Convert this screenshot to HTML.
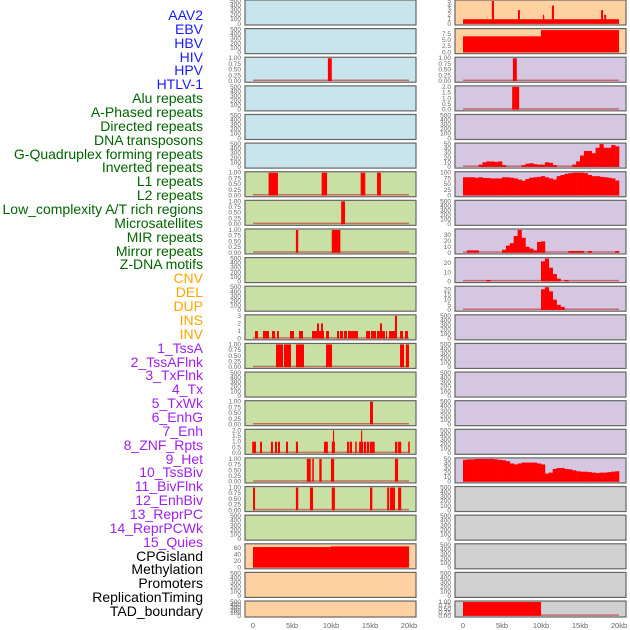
<!DOCTYPE html>
<html><head><meta charset="utf-8">
<style>
body{margin:0;background:#fff;width:630px;height:630px;overflow:hidden;font-family:"Liberation Sans",sans-serif}
#labels div{position:absolute;right:427px;font-size:14px;line-height:14px;white-space:nowrap}
</style></head>
<body>
<div id="labels"></div>
<svg id="chart" width="630" height="630" style="position:absolute;left:0;top:0"></svg>
<script>
const trackNames=["AAV2","EBV","HBV","HIV","HPV","HTLV-1","Alu repeats","A-Phased repeats","Directed repeats","DNA transposons","G-Quadruplex forming repeats","Inverted repeats","L1 repeats","L2 repeats","Low_complexity A/T rich regions","Microsatellites","MIR repeats","Mirror repeats","Z-DNA motifs","CNV","DEL","DUP","INS","INV","1_TssA","2_TssAFlnk","3_TxFlnk","4_Tx","5_TxWk","6_EnhG","7_Enh","8_ZNF_Rpts","9_Het","10_TssBiv","11_BivFlnk","12_EnhBiv","13_ReprPC","14_ReprPCWk","15_Quies","CPGisland","Methylation","Promoters","ReplicationTiming","TAD_boundary"];
const groupCounts=[6,13,5,15,5];
const groupColors=["#1a1aff","#006400","#ffa500","#a020f0","#000000"];
const xTicks=[0,5,10,15,20];
const xTickLabels=["0","5kb","10kb","15kb","20kb"];
const emptyTicks=[0,100,200,300,400,500];
const unitTicks=[0,0.25,0.5,0.75,1];
// left column segment data [startKb,endKb,value]
const hivSegs=[[9.6,10.1,1]];
const l1Segs=[[2.0,3.2,1],[8.8,9.5,1],[13.8,14.4,1],[15.9,16.4,1]];
const lowSegs=[[11.3,11.8,1]];
const mirSegs=[[5.5,5.8,1],[10.1,11.2,1]];
const cnvSegs=[[0.26,0.64,1],[1.28,2.05,1],[2.44,2.82,1],[3.08,3.33,1],[4.74,5.26,1],[5.9,6.41,1],[7.56,8.2,1],[8.2,8.46,2],[8.46,8.72,1],[8.72,8.97,2],[8.97,9.1,1],[9.36,9.74,1],[10.77,11.03,1],[11.15,11.54,1],[11.67,12.05,1],[12.18,13.46,1],[14.49,15.0,1],[15.13,15.77,1],[15.9,16.28,1],[16.28,16.54,2],[16.54,16.92,1],[17.05,17.18,1],[17.44,17.82,1],[17.82,18.2,1],[18.2,18.46,3],[18.85,19.23,1],[19.49,19.87,1]];
const delSegs=[[2.95,3.85,1],[3.97,4.87,1],[5.51,6.54,1],[9.36,10.13,1],[18.85,19.36,1],[19.6,20.0,1]];
const insSegs=[[15.0,15.38,1]];
const invSegs=[[-0.1,0.38,1],[0.9,1.15,1],[2.3,2.56,1],[2.82,3.08,1],[3.2,3.46,1],[4.23,4.49,1],[5.5,5.77,1],[9.1,9.6,1],[10.1,10.5,1],[10.25,10.4,2],[12.05,12.3,1],[12.4,12.7,1],[13.1,13.3,1],[13.6,14.1,1],[13.85,14.0,2],[14.2,14.5,1],[14.6,14.9,1],[15.0,15.6,1],[18.2,18.5,1],[18.6,19.0,1],[19.9,20.1,1]];
const tssaSegs=[[6.9,7.4,1],[7.6,7.8,1],[8.5,8.8,1],[10.0,10.4,1],[18.2,18.6,1]];
const flnkSegs=[[0,0.26,1],[5.5,5.8,1],[7.3,7.7,1],[10.1,10.5,1],[15.0,15.3,1],[17.2,17.45,1],[17.56,17.95,1],[17.95,18.2,1],[18.6,19.0,1]];
const cpgSegs=[[0,10,63],[10,20,65]];
// right column
const aavSegs=[[0,20,1],[3.7,3.97,5],[7.05,7.3,3],[10.25,10.4,2],[11.4,11.67,4],[17.7,17.95,3],[18.1,18.35,2]];
const ebvSegs=[[0,10,6.5],[10,20,9]];
const hpvSegs=[[6.4,6.9,1]];
const htlvSegs=[[6.3,7.2,2]];
const tadSegs=[[0,10,1]];
// right column binned profiles (0.5kb bins, 0..20kb)
const gquadBins=[0,0,0,0,5,10,12,12,11,12,4,0,0,0,0,4,7,8,6,5,5,10,9,4,0,0,0,0,5,12,25,35,35,30,42,50,42,42,48,45];
const l2Bins=[80,80,80,78,80,77,77,75,75,75,80,80,78,75,70,65,72,78,80,82,85,80,75,70,85,90,95,98,100,100,100,98,90,85,85,82,80,78,75,66];
const mirrorBins=[0,4,4,4,0,0,0,0,0,0,5,12,16,28,38,25,10,7,4,18,19,0,0,0,0,0,0,3,3,3,3,0,3,0,0,0,0,0,0,3];
const zdnaBins=[0,0,0,0,0,0,1.5,0,0,0,0,0,0,0,0,0,0,0,0,0,22,25,15,8,3,0,1.5,0,0,0,0,0,0,0,0,0,0,0,0,0];
const delRBins=[0,0,0,0,0,0,0,0,0,0,0,0,0,0,0,0,0,0,0,0,20,22,18,10,5,3,0,0,0,0,0,0,0,0,0,0,0,0,0,0];
const hetBins=[48,49,49,50,50,50,50,50,49,48,47,45,40,38,40,42,42,42,42,40,38,18,20,28,30,30,28,27,25,23,22,22,21,20,19,20,20,21,22,23];

const blue="#c8e4ec",green="#c8e0a4",orange="#ffd0a0",purple="#d5c6e2",grey="#d0d0d0";
// layout: [column, row, bg, ticks, segs, bins, ymax]
const layout=[
[0,0,blue,emptyTicks],[0,1,blue,emptyTicks],[0,2,blue,unitTicks,hivSegs],[0,3,blue,emptyTicks],[0,4,blue,emptyTicks],[0,5,blue,emptyTicks],
[0,6,green,unitTicks,l1Segs],[0,7,green,unitTicks,lowSegs],[0,8,green,unitTicks,mirSegs],[0,9,green,emptyTicks],[0,10,green,emptyTicks],
[0,11,green,[0,1,2,3],cnvSegs],[0,12,green,unitTicks,delSegs],[0,13,green,emptyTicks],[0,14,green,unitTicks,insSegs],
[0,15,green,[0,0.5,1,1.5,2],invSegs],[0,16,green,unitTicks,tssaSegs],[0,17,green,unitTicks,flnkSegs],[0,18,green,emptyTicks],
[0,19,orange,[0,20,40,60],cpgSegs,null,70],[0,20,orange,emptyTicks],[0,21,orange,emptyTicks],
[1,0,orange,[0,1,2,3,4,5],aavSegs],[1,1,orange,[0,2.5,5,7.5],ebvSegs,null,9.2],[1,2,purple,unitTicks,hpvSegs],[1,3,purple,[0,0.5,1,1.5,2],htlvSegs],
[1,4,purple,emptyTicks],[1,5,purple,[0,10,20,30,40,50],null,gquadBins],[1,6,purple,[0,25,50,75,100],null,l2Bins],[1,7,purple,emptyTicks],
[1,8,purple,[0,10,20,30],null,mirrorBins,38],[1,9,purple,[0,10,20],null,zdnaBins,25],[1,10,purple,[0,5,10,15,20],null,delRBins,22],
[1,11,purple,emptyTicks],[1,12,purple,emptyTicks],[1,13,purple,emptyTicks],[1,14,purple,emptyTicks],[1,15,purple,emptyTicks],
[1,16,purple,[0,10,20,30,40,50],null,hetBins],[1,17,grey,emptyTicks],[1,18,grey,emptyTicks],[1,19,grey,emptyTicks],[1,20,grey,emptyTicks],[1,21,grey,unitTicks,tadSegs]
];
const NS="http://www.w3.org/2000/svg";
const svg=document.getElementById('chart');
function mk(tag,attrs,parent){const e=document.createElementNS(NS,tag);for(const k in attrs)e.setAttribute(k,attrs[k]);(parent||svg).appendChild(e);return e;}
const lab=document.getElementById('labels');
let gi=0,gc=0;
trackNames.forEach((n,i)=>{
  while(gc>=groupCounts[gi]){gi++;gc=0;}gc++;
  const d=document.createElement('div');
  
  
  d.style.top=(15+i*13.86-7)+'px';d.style.color=groupColors[gi];d.textContent=n;lab.appendChild(d);
});
const colX=[245,455],panelW=171;
function xs(col,kb){return colX[col]+8+kb*7.8;}
function decimals(ticks){let d=0;ticks.forEach(t=>{const s=String(t);const k=s.indexOf('.');if(k>=0)d=Math.max(d,s.length-k-1);});return d;}
layout.forEach(p=>{
  const [col,row,bg,ticks,segs,bins,ymaxOpt]=p;
  const top=row*28.62,h=row==21?16:25;
  const g=mk('g',{});
  
  
  const bgR=mk('rect',{x:colX[col],y:top,width:panelW,height:h,fill:bg,stroke:'#666','stroke-width':1.2},g);
  
  
  const ymax=ymaxOpt||ticks[ticks.length-1];
  const y0=top+h-1.2,y1=top+1;
  const ys=v=>y0-(v/ymax)*(y0-y1);
  const dec=decimals(ticks);
  ticks.forEach(t=>{
    const tx=mk('text',{x:colX[col]-4,y:ys(t)+2,'text-anchor':'end','font-size':6.5,fill:'#666'},g);
    
    
    tx.textContent=t.toFixed(dec);
  });
  if(segs||bins){
    const bl=mk('rect',{x:xs(col,0),y:y0-1.5,width:20*7.8,height:1.5,fill:'#c04040',opacity:0.7},g);
    
    
  }
  if(segs) segs.forEach(s=>{
    const r=mk('rect',{x:xs(col,s[0]),y:ys(s[2]),width:Math.max(1,(s[1]-s[0])*7.8),height:y0-ys(s[2]),fill:'#ff0000'},g);
    
    
  });
  if(bins) bins.forEach((v,i)=>{
    if(v<=0)return;
    const r=mk('rect',{x:xs(col,i*0.5),y:ys(v),width:0.5*7.8+0.3,height:y0-ys(v),fill:'#ff0000'},g);
    
    
  });
});
[0,1].forEach(col=>{
  xTicks.forEach((t,i)=>{
    const tx=mk('text',{x:xs(col,t),y:628,'text-anchor':'middle','font-size':7.5,fill:'#666'});
    
    
    tx.textContent=xTickLabels[i];
  });
});
</script>
</body></html>
